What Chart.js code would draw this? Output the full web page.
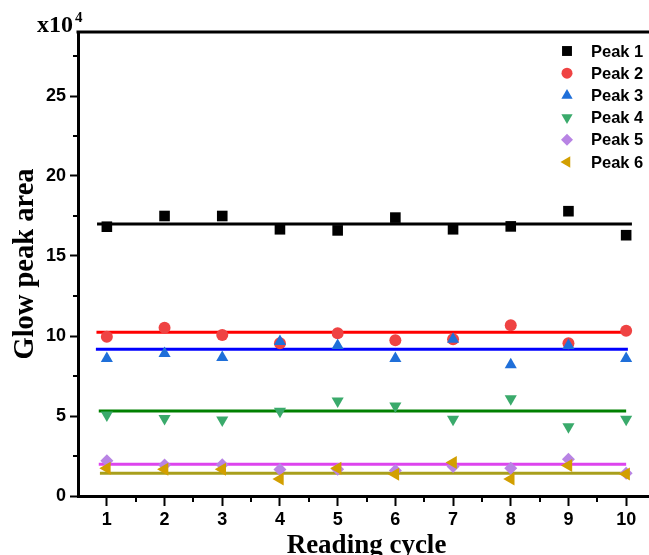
<!DOCTYPE html>
<html>
<head>
<meta charset="utf-8">
<script src="https://cdn.jsdelivr.net/npm/chart.js@4.4.1/dist/chart.umd.min.js"></script>
<style>
  html, body { margin: 0; padding: 0; background: #fff; overflow: hidden; }
  #wrap { width: 649px; height: 555px; overflow: hidden; position: relative; }
  canvas { display: block; }
</style>
</head>
<body>
<div id="wrap"><canvas id="c" width="655" height="565" style="width:655px;height:565px"></canvas></div>
<script>
// ---- data (values in units of 10^4) ----
const cycles = [1, 2, 3, 4, 5, 6, 7, 8, 9, 10];
const xTicks = [1, 2, 3, 4, 5, 6, 7, 8, 9, 10];
const yTicks = [0, 5, 10, 15, 20, 25];
const seriesNames = ['Peak 1', 'Peak 2', 'Peak 3', 'Peak 4', 'Peak 5', 'Peak 6'];
const peak1 = [16.83, 17.5, 17.5, 16.67, 16.6, 17.4, 16.67, 16.85, 17.8, 16.3];
const peak2 = [9.96, 10.52, 10.06, 9.55, 10.17, 9.73, 9.8, 10.67, 9.55, 10.33];
const peak3 = [8.6, 8.9, 8.65, 9.65, 9.4, 8.6, 9.8, 8.2, 9.4, 8.6];
const peak4 = [5.06, 4.85, 4.75, 5.3, 5.93, 5.62, 4.8, 6.08, 4.33, 4.8];
const peak5 = [2.21, 1.94, 1.96, 1.65, 1.67, 1.6, 1.85, 1.73, 2.29, 1.42];
const peak6 = [1.73, 1.67, 1.67, 1.06, 1.73, 1.36, 2.1, 1.06, 1.9, 1.38];
const fitValues = [17.0, 10.23, 9.17, 5.31, 1.98, 1.42];
const fitStart = [0.83, 0.82, 0.81, 0.86, 0.86, 0.88];
const fitEnd = [10.1, 10.0, 10.03, 10.0, 10.0, 10.0];

// ---- styles ----
const markerColors = ['#000000', '#ef4343', '#1f6fd9', '#3aaa6b', '#b884e4', '#d29f00'];
const lineColors = ['#000000', '#ff0000', '#0000ff', '#008000', '#dd44ee', '#a89f1c'];
const pointStyles = ['rect', 'circle', 'triangle', 'triangle', 'rectRot', 'triangle'];
const rotations = [0, 0, 0, 180, 0, 270];
const radii = [7.5, 6, 7, 7, 6.5, 7.5];
const legendRadii = [7, 5.5, 6.5, 6.5, 6, 6.5];

const allPeaks = [peak1, peak2, peak3, peak4, peak5, peak6];

const datasets = [];
allPeaks.forEach((vals, i) => {
  datasets.push({
    label: seriesNames[i],
    data: cycles.map((c, k) => ({ x: c, y: vals[k] })),
    showLine: false,
    pointStyle: pointStyles[i],
    rotation: rotations[i],
    pointRadius: radii[i],
    pointHoverRadius: radii[i],
    backgroundColor: markerColors[i],
    borderColor: markerColors[i],
    borderWidth: 0,
    order: 6 - i
  });
});
fitValues.forEach((v, i) => {
  datasets.push({
    label: 'fit ' + seriesNames[i],
    data: [{ x: fitStart[i], y: v }, { x: fitEnd[i], y: v }],
    showLine: true,
    pointRadius: 0,
    borderColor: lineColors[i],
    borderWidth: 3,
    fill: false,
    order: 20 + i
  });
});

const frameAndExtras = {
  id: 'frameAndExtras',
  afterDraw(chart) {
    const { ctx, chartArea } = chart;
    const xs = chart.scales.x, ys = chart.scales.y;
    ctx.save();
    // top frame
    ctx.strokeStyle = '#000';
    ctx.lineWidth = 3;
    ctx.beginPath();
    ctx.moveTo(chartArea.left - 1.5, chartArea.top);
    ctx.lineTo(chartArea.right + 2, chartArea.top);
    ctx.stroke();
    // minor ticks
    ctx.lineWidth = 2;
    ctx.beginPath();
    for (let v = 1.5; v < 10.5; v += 1) {
      const px = Math.round(xs.getPixelForValue(v));
      ctx.moveTo(px, chartArea.bottom);
      ctx.lineTo(px, chartArea.bottom + 6);
    }
    for (let v = 2.5; v < 29; v += 5) {
      const py = Math.round(ys.getPixelForValue(v));
      ctx.moveTo(chartArea.left, py);
      ctx.lineTo(chartArea.left - 5, py);
    }
    ctx.stroke();
    // x10^4 label
    ctx.fillStyle = '#000';
    ctx.textBaseline = 'alphabetic';
    ctx.textAlign = 'left';
    ctx.font = 'bold 24px "Liberation Serif", "Times New Roman", serif';
    ctx.fillText('x10', 37, 32);
    ctx.font = 'bold 15px "Liberation Serif", "Times New Roman", serif';
    ctx.fillText('4', 75, 22);
    // legend
    const lx = 567, tx = 591, ly0 = 51, dy = 22.2;
    ctx.font = 'bold 16.5px "Liberation Sans", Arial, sans-serif';
    ctx.textBaseline = 'middle';
    seriesNames.forEach((name, i) => {
      const y = ly0 + i * dy;
      ctx.fillStyle = markerColors[i];
      ctx.strokeStyle = markerColors[i];
      ctx.lineWidth = 0;
      Chart.helpers.drawPoint(ctx, {
        pointStyle: pointStyles[i],
        rotation: rotations[i],
        radius: legendRadii[i],
        borderWidth: 0
      }, lx, y);
      ctx.fillStyle = '#000';
      ctx.fillText(name, tx, y + 1);
    });
    ctx.restore();
  }
};

const tickFont = { family: '"Liberation Sans", Arial, sans-serif', size: 18, weight: 'bold' };
const xTitleFont = { family: '"Liberation Serif", "Times New Roman", serif', size: 27, weight: 'bold' };
const yTitleFont = { family: '"Liberation Serif", "Times New Roman", serif', size: 28.5, weight: 'bold' };

new Chart(document.getElementById('c'), {
  type: 'scatter',
  data: { datasets },
  plugins: [frameAndExtras],
  options: {
    responsive: false,
    animation: false,
    devicePixelRatio: 1,
    layout: { autoPadding: false, padding: { top: 32, left: 0, right: 0, bottom: 0 } },
    plugins: { legend: { display: false }, tooltip: { enabled: false } },
    scales: {
      x: {
        type: 'linear',
        min: 0.5,
        max: 10.5,
        afterFit(s) { s.height = 69; s.paddingLeft = 0; s.paddingRight = 0; },
        afterBuildTicks(s) { s.ticks = xTicks.map(v => ({ value: v })); },
        ticks: { font: tickFont, color: '#000', padding: 3, maxRotation: 0, autoSkip: false,
                 callback: v => String(v) },
        grid: { drawOnChartArea: false, tickLength: 10, tickWidth: 2, tickColor: '#000' },
        border: { display: true, color: '#000', width: 3 },
        title: { display: true, text: 'Reading cycle', font: xTitleFont, color: '#000',
                 padding: { top: 0, bottom: 3 } }
      },
      y: {
        type: 'linear',
        min: 0,
        max: 29,
        afterFit(s) { s.width = 78; s.paddingTop = 0; s.paddingBottom = 0; },
        afterBuildTicks(s) { s.ticks = yTicks.map(v => ({ value: v })); },
        ticks: { font: tickFont, color: '#000', padding: 4, autoSkip: false,
                 callback: v => String(v) },
        grid: { drawOnChartArea: false, tickLength: 8, tickWidth: 2, tickColor: '#000' },
        border: { display: true, color: '#000', width: 3 },
        title: { display: true, text: 'Glow peak area', font: yTitleFont, color: '#000',
                 padding: { top: 9, bottom: 0 } }
      }
    }
  }
});
</script>
</body>
</html>
